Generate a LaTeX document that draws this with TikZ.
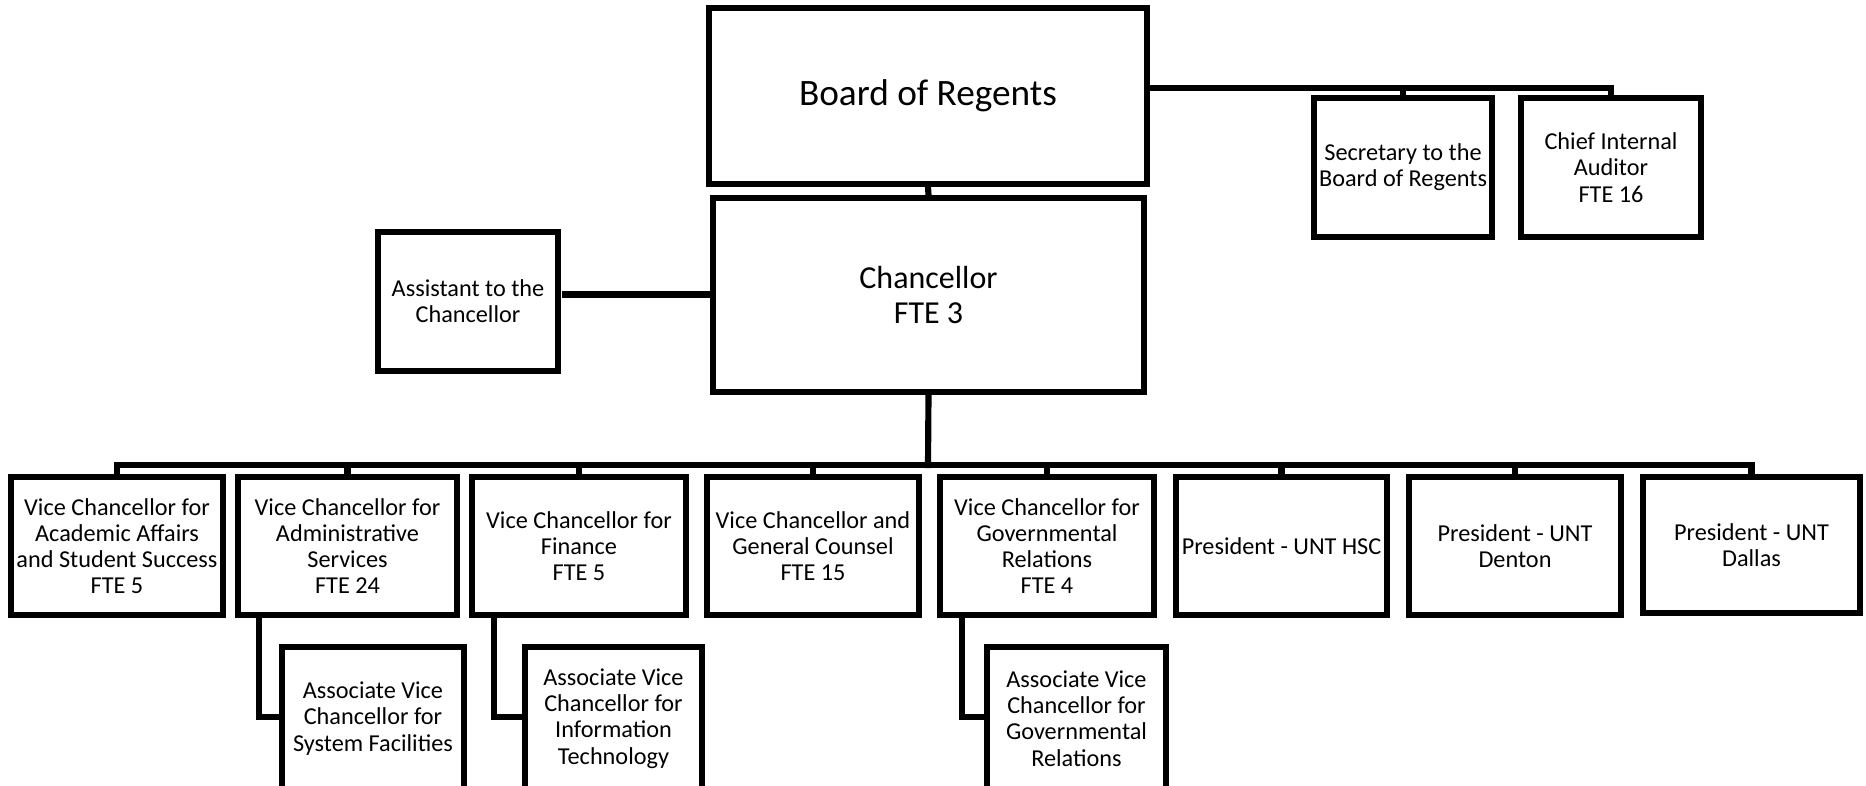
\documentclass[tikz,border=0pt]{standalone}
\usepackage{fontspec}
\setmainfont{Carlito}
\begin{document}
\begin{tikzpicture}[x=0.01cm,y=-0.01cm,
  box/.style={draw=black,line width=1.75pt,fill=white,inner sep=0pt,align=center,
    font=\fontsize{6.9}{7.45}\selectfont},
  conn/.style={line width=1.75pt,line cap=rect}]
\useasboundingbox (0,0) rectangle (1866,786);
\clip (0,0) rectangle (1866,786);
% top level
\node[box,minimum width=4.38cm,minimum height=1.76cm,font=\fontsize{10.6}{12}\selectfont] (bor) at (928,96) {Board of Regents};
\node[box,minimum width=4.31cm,minimum height=1.94cm,font=\fontsize{9.1}{9.8}\selectfont] (chan) at (928.5,295) {Chancellor\\FTE 3};
\node[box,minimum width=1.80cm,minimum height=1.39cm] (asst) at (468,301.5) {Assistant to the\\Chancellor};
\node[box,minimum width=1.78cm,minimum height=1.39cm] (sec) at (1403,167.5) {Secretary to the\\Board of Regents};
\node[box,minimum width=1.80cm,minimum height=1.39cm] (aud) at (1611,167.5) {Chief Internal\\Auditor\\FTE 16};
% second row
\node[box,minimum width=2.12cm,minimum height=1.38cm] (v1) at (117,546) {Vice Chancellor for\\Academic Affairs\\and Student Success\\FTE 5};
\node[box,minimum width=2.19cm,minimum height=1.38cm] (v2) at (347.5,546) {Vice Chancellor for\\Administrative\\Services\\FTE 24};
\node[box,minimum width=2.14cm,minimum height=1.38cm] (v3) at (579,546) {Vice Chancellor for\\Finance\\FTE 5};
\node[box,minimum width=2.12cm,minimum height=1.38cm] (v4) at (813,546) {Vice Chancellor and\\General Counsel\\FTE 15};
\node[box,minimum width=2.14cm,minimum height=1.38cm] (v5) at (1047,546) {Vice Chancellor for\\Governmental\\Relations\\FTE 4};
\node[box,minimum width=2.11cm,minimum height=1.38cm] (v6) at (1281.5,546) {President - UNT HSC};
\node[box,minimum width=2.12cm,minimum height=1.38cm] (v7) at (1515,546) {President - UNT\\Denton};
\node[box,minimum width=2.17cm,minimum height=1.36cm] (v8) at (1751.5,545) {President - UNT\\Dallas};
% third row
\node[box,minimum width=1.82cm,minimum height=1.43cm] (a1) at (373,718.5) {Associate Vice\\Chancellor for\\System Facilities};
\node[box,minimum width=1.77cm,minimum height=1.43cm] (a2) at (613.5,718.5) {Associate Vice\\Chancellor for\\Information\\Technology};
\node[box,minimum width=1.79cm,minimum height=1.43cm] (a3) at (1076.5,718.5) {Associate Vice\\Chancellor for\\Governmental\\Relations};
% connectors
\coordinate (bus) at (928,465);
\draw[conn] (bor.south) -- (chan.north);
\draw[conn,line width=2.1pt] (asst.east) ++(5,-7) coordinate (ae) -- (ae -| chan.west);
\draw[conn] (bor.east |- 0,88) coordinate (be) -- (be -| aud.north) -- (aud.north);
\draw[conn] (be -| sec.north) -- (sec.north);
\draw[conn] (chan.south) -- (bus);
\draw[conn] (bus -| v1.north) -- (bus -| v8.north);
\foreach \n in {v1,v2,v3,v4,v5,v6,v7,v8}
  \draw[conn] (bus -| \n.north) -- (\n.north);
\coordinate (c1) at (259,717);
\coordinate (c2) at (494,717);
\coordinate (c3) at (962,717);
\draw[conn] (v2.south -| c1) -- (c1) -- (c1 -| a1.west);
\draw[conn] (v3.south -| c2) -- (c2) -- (c2 -| a2.west);
\draw[conn] (v5.south -| c3) -- (c3) -- (c3 -| a3.west);
\end{tikzpicture}
\end{document}
